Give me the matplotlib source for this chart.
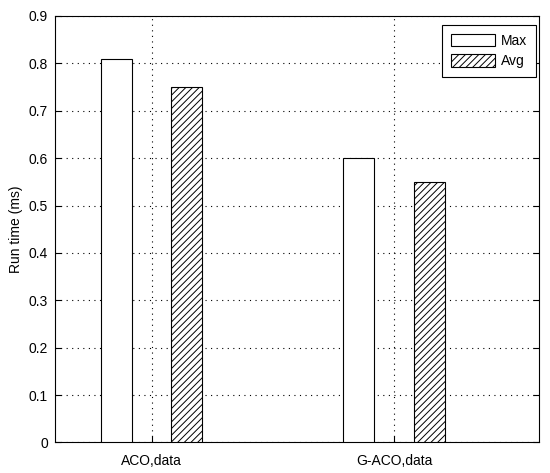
import numpy as np
import matplotlib.pyplot as plt

plt.rcParams['font.family'] = ['Liberation Sans', 'DejaVu Sans']
plt.rcParams['hatch.linewidth'] = 0.7

categories = ['ACO,data', 'G-ACO,data']
max_vals = [0.81, 0.60]
avg_vals = [0.75, 0.55]
series_names = ['Max', 'Avg']

fig = plt.figure(figsize=(5.5, 4.73), dpi=100)
ax = fig.add_axes([0.1, 0.0645, 0.8805, 0.9017])

x = np.arange(1, len(categories) + 1)
w = 0.128
ax.bar(x - 0.145, max_vals, w, color='white', edgecolor='black', linewidth=0.8,
       label=series_names[0], zorder=3)
ax.bar(x + 0.145, avg_vals, w, color='white', edgecolor='black', linewidth=0.8,
       hatch='/////', label=series_names[1], zorder=3)

ax.set_xlim(0.6, 2.6)
ax.set_ylim(0, 0.9)
ax.set_xticks(x)
ax.set_xticklabels(categories)
ax.set_yticks(np.arange(0, 0.91, 0.1))
ax.set_yticklabels(['0'] + ['%.1f' % v for v in np.arange(0.1, 0.91, 0.1)])
ax.tick_params(direction='in', length=4, width=0.8, labelsize=10, pad=5,
               right=True, top=False)
ax.tick_params(axis='x', pad=8)
ax.grid(True, linestyle=(0, (1, 4)), color='black', linewidth=0.8, zorder=0)
for s in ax.spines.values():
    s.set_linewidth(0.8)
ax.set_ylabel('Run time (ms)', fontsize=10, labelpad=4)

leg = ax.legend(loc='upper right', bbox_to_anchor=(0.993, 0.979),
                fancybox=False, edgecolor='black', framealpha=1, fontsize=10,
                handlelength=3.2, handleheight=1.0, borderaxespad=0,
                borderpad=0.65, handletextpad=0.4, labelspacing=0.45)
leg.get_frame().set_linewidth(0.8)

fig.savefig('out.png', dpi=100)
